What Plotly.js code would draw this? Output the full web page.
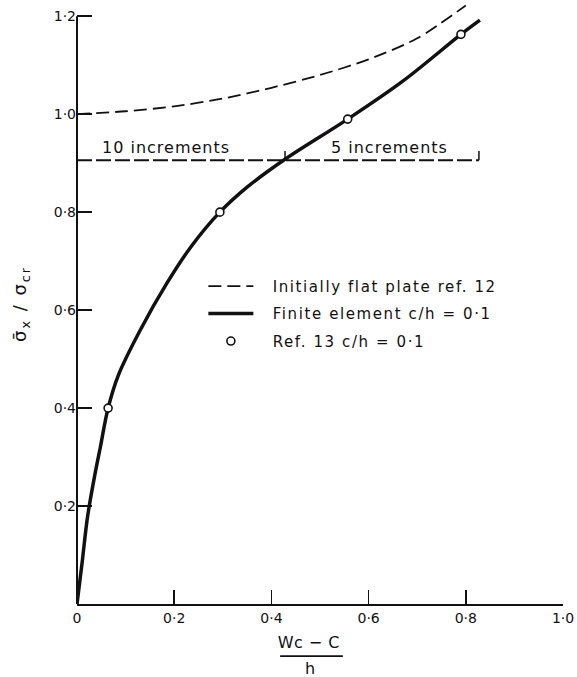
<!DOCTYPE html>
<html>
<head>
<meta charset="utf-8">
<script src="https://cdn.plot.ly/plotly-3.0.1.min.js"></script>
<style>html,body{margin:0;padding:0;background:#fff}#chart{width:577px;height:677px}</style>
</head>
<body>
<div id="chart"></div>
<script>
// Initially flat plate ref. 12 (dashed)
const flatX = [0, 0.1, 0.2, 0.3, 0.4, 0.5, 0.6, 0.7, 0.8];
const flatY = [1.0, 1.006, 1.016, 1.032, 1.054, 1.08, 1.112, 1.155, 1.222];
// Finite element c/h = 0.1 (solid)
const feX = [0, 0.01, 0.022, 0.036, 0.048, 0.064, 0.085, 0.13, 0.185, 0.235, 0.294, 0.35, 0.428, 0.557, 0.671, 0.79, 0.829];
const feY = [0, 0.08, 0.18, 0.26, 0.32, 0.4, 0.467, 0.559, 0.655, 0.73, 0.8, 0.851, 0.908, 0.99, 1.068, 1.163, 1.192];
// Ref. 13 c/h = 0.1 (circles)
const refX = [0.064, 0.294, 0.557, 0.79];
const refY = [0.4, 0.8, 0.99, 1.163];
// Increment divider line
const incX = [0, 0.827];
const incLevel = 0.906;
const incTickX = [0.428, 0.827];
const incTickTop = 0.925;
const incLabels = ["10 increments", "5 increments"];
const incLabelX = [0.183, 0.644];
// Legend names
const seriesNames = ["Initially flat plate ref. 12", "Finite element c/h = 0·1", "Ref. 13 c/h = 0·1"];
// Axis ticks
const xTickVals = [0, 0.2, 0.4, 0.6, 0.8, 1.0];
const xTickText = ["0", "0·2", "0·4", "0·6", "0·8", "1·0"];
const yTickVals = [0.2, 0.4, 0.6, 0.8, 1.0, 1.2];
const yTickText = ["0·2", "0·4", "0·6", "0·8", "1·0", "1·2"];

const FONT = "DejaVu Sans, Liberation Sans, sans-serif";
function spaced(t, px) { return '<span style="letter-spacing:' + px + 'px">' + t + '</span>'; }
const NB = "\u00a0";

const tickSegX = [], tickSegY = [];
incTickX.forEach(function (x) { tickSegX.push(x, x, null); tickSegY.push(incLevel, incTickTop, null); });

const traces = [
  { x: flatX, y: flatY, mode: "lines", name: NB + NB + NB + spaced(seriesNames[0], 1.6), legendgroup: "a",
    line: { color: "#111", width: 1.8, dash: "13px,6px", shape: "spline", smoothing: 0.8 } },
  { x: feX, y: feY, mode: "lines", name: NB + NB + NB + spaced(seriesNames[1], 1.6), legendgroup: "b",
    line: { color: "#111", width: 3.5, shape: "spline", smoothing: 1 } },
  { x: refX, y: refY, mode: "markers", name: NB + NB + NB + spaced(seriesNames[2], 1.6), legendgroup: "c",
    marker: { symbol: "circle", size: 8, color: "#fff", line: { color: "#111", width: 1.6 } } },
  { x: incX, y: incX.map(function () { return incLevel; }), mode: "lines", showlegend: false, hoverinfo: "skip",
    line: { color: "#111", width: 1.8, dash: "15px,4px" } },
  { x: tickSegX, y: tickSegY, mode: "lines", showlegend: false, hoverinfo: "skip",
    line: { color: "#111", width: 1.5 } }
];

const annotations = incLabels.map(function (t, i) {
  return { x: incLabelX[i], y: incLevel, xref: "x", yref: "y", text: spaced(t, 1), showarrow: false,
    yanchor: "bottom", yshift: 1, font: { family: FONT, size: 16, color: "#111" } };
});
annotations.push({ x: 0.48, y: -0.107, xref: "paper", yref: "paper", text: "h", showarrow: false,
  yanchor: "middle", font: { family: FONT, size: 16, color: "#111" } });

const layout = {
  width: 577, height: 677,
  margin: { l: 77, r: 14, t: 4, b: 73 },
  paper_bgcolor: "#fff", plot_bgcolor: "#fff",
  font: { family: FONT, color: "#111", size: 14 },
  showlegend: true,
  legend: { x: 0.26, y: 0.557, xanchor: "left", yanchor: "top", bgcolor: "rgba(0,0,0,0)",
    traceorder: "grouped", tracegroupgap: 5, itemwidth: 45, font: { family: FONT, size: 15, color: "#111" } },
  xaxis: {
    range: [0, 1], tickmode: "array", tickvals: xTickVals, ticktext: xTickText,
    ticks: "inside", ticklen: 14, tickwidth: 1.5, tickcolor: "#111",
    showline: true, linewidth: 2, linecolor: "#111", showgrid: false, zeroline: false,
    tickfont: { family: FONT, size: 14, color: "#111" },
    title: { text: spaced("Wc − C" + NB + NB + NB + NB, 0.5), standoff: 12, font: { family: FONT, size: 16, color: "#111" } }
  },
  yaxis: {
    range: [0, 1.225], tickmode: "array", tickvals: yTickVals, ticktext: yTickText,
    ticks: "inside", ticklen: 15, tickwidth: 1.5, tickcolor: "#111",
    showline: false, showgrid: false, zeroline: false,
    tickfont: { family: FONT, size: 14, color: "#111" },
    title: { text: spaced("σ̄<sub>x</sub> / σ<sub>cr</sub>", 2), standoff: 22, font: { family: FONT, size: 18, color: "#111" } }
  },
  shapes: [
    { type: "line", xref: "paper", yref: "y", x0: 0, x1: 0, y0: 0, y1: 1.2, line: { color: "#111", width: 2 } },
    { type: "line", xref: "paper", yref: "paper", x0: 0.418, x1: 0.547, y0: -0.087, y1: -0.087, line: { color: "#111", width: 1.8 } }
  ],
  annotations: annotations
};

Plotly.newPlot("chart", traces, layout, { staticPlot: true, displayModeBar: false });
</script>
</body>
</html>
